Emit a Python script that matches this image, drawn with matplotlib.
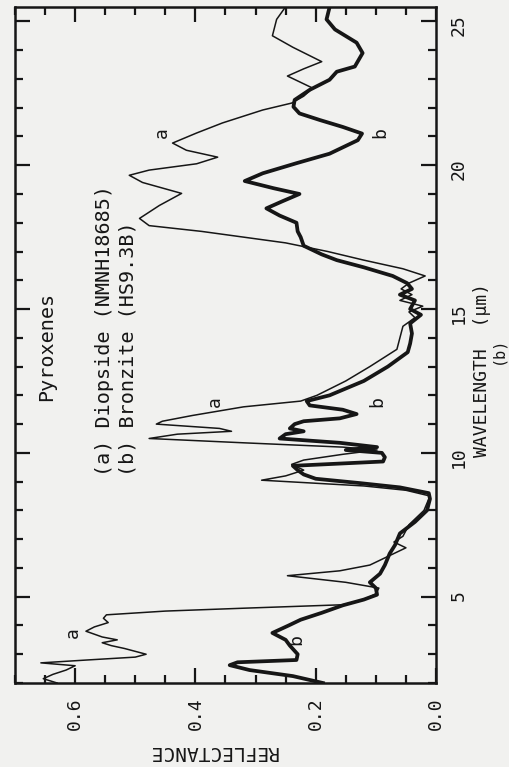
import numpy as np
import matplotlib.pyplot as plt
from matplotlib.ticker import MultipleLocator, FixedLocator

# (a) Diopside (NMNH18685) -- wavelength (um) / reflectance
wl_a = [2.0, 2.15, 2.3, 2.45, 2.6, 2.7, 2.8, 2.9, 3.0, 3.1, 3.2, 3.3, 3.4, 3.5,
        3.6, 3.8, 3.95, 4.1, 4.25, 4.37, 4.5, 4.6, 4.72, 4.9, 5.1, 5.3, 5.5,
        5.73, 5.9, 6.1, 6.5, 6.7, 6.9, 7.1, 7.5, 8.0, 8.5, 8.7, 8.85, 9.05,
        9.2, 9.4, 9.6, 9.75, 9.95, 10.1, 10.2, 10.35, 10.5, 10.65, 10.75,
        10.85, 11.0, 11.1, 11.3, 11.6, 11.8, 12.0, 12.5, 13.0, 13.6, 14.0,
        14.4, 14.7, 14.9, 15.1, 15.3, 15.5, 15.7, 15.9, 16.15, 16.4, 16.7,
        17.0, 17.3, 17.7, 17.9, 18.15, 18.6, 19.02, 19.4, 19.65, 19.83, 20.05,
        20.28, 20.52, 20.77, 21.12, 21.47, 21.92, 22.16, 22.4, 22.68, 22.9,
        23.1, 23.35, 23.6, 24.1, 24.5, 25.07, 25.45]
refl_a = [0.63, 0.653, 0.637, 0.615, 0.60, 0.657, 0.58, 0.50, 0.482, 0.50,
          0.518, 0.54, 0.555, 0.53, 0.555, 0.582, 0.568, 0.545, 0.553, 0.548,
          0.45, 0.32, 0.155, 0.12, 0.10, 0.095, 0.15, 0.247, 0.16, 0.11,
          0.07, 0.05, 0.07, 0.055, 0.045, 0.02, 0.01, 0.05, 0.12, 0.29,
          0.25, 0.22, 0.24, 0.22, 0.155, 0.098, 0.155, 0.32, 0.477, 0.43,
          0.34, 0.36, 0.465, 0.455, 0.405, 0.32, 0.225, 0.198, 0.15, 0.11,
          0.065, 0.06, 0.055, 0.035, 0.045, 0.022, 0.06, 0.04, 0.058, 0.045,
          0.018, 0.055, 0.12, 0.18, 0.25, 0.39, 0.477, 0.493, 0.46, 0.423,
          0.488, 0.51, 0.477, 0.398, 0.363, 0.415, 0.438, 0.398, 0.355,
          0.288, 0.24, 0.22, 0.205, 0.227, 0.247, 0.22, 0.19, 0.238, 0.272,
          0.265, 0.252]

# (b) Bronzite (HS9.3B)
wl_b = [2.0, 2.24, 2.45, 2.62, 2.72, 2.8, 3.0, 3.3, 3.5, 3.74, 4.0, 4.2, 4.44,
        4.7, 4.9, 5.07, 5.3, 5.5, 5.8, 6.1, 6.5, 6.8, 7.2, 7.6, 8.0, 8.4, 8.6,
        8.8, 8.95, 9.1, 9.25, 9.4, 9.55, 9.7, 9.85, 10.0, 10.1, 10.2, 10.35,
        10.5, 10.65, 10.75, 10.85, 11.0, 11.1, 11.2, 11.35, 11.5, 11.65, 11.8,
        12.0, 12.5, 13.0, 13.5, 13.8, 14.15, 14.5, 14.8, 15.0, 15.3, 15.5,
        15.7, 15.9, 16.15, 16.45, 16.7, 16.9, 17.2, 17.5, 17.7, 18.0, 18.25,
        18.5, 18.75, 19.0, 19.2, 19.45, 19.72, 20.07, 20.4, 20.87, 21.1,
        21.33, 21.57, 21.8, 22.03, 22.27, 22.62, 22.97, 23.25, 23.43, 23.9,
        24.26, 24.72, 25.07, 25.49]
refl_b = [0.188, 0.238, 0.31, 0.343, 0.33, 0.232, 0.23, 0.243, 0.25, 0.272,
          0.245, 0.225, 0.19, 0.155, 0.12, 0.098, 0.10, 0.11, 0.093, 0.085,
          0.077, 0.068, 0.06, 0.035, 0.015, 0.01, 0.012, 0.06, 0.127, 0.2,
          0.22, 0.23, 0.238, 0.088, 0.085, 0.09, 0.15, 0.098, 0.16, 0.26,
          0.25, 0.22, 0.243, 0.235, 0.22, 0.16, 0.132, 0.155, 0.21, 0.215,
          0.177, 0.12, 0.08, 0.047, 0.043, 0.04, 0.043, 0.025, 0.043, 0.035,
          0.06, 0.04, 0.048, 0.072, 0.12, 0.165, 0.19, 0.22, 0.225, 0.23,
          0.232, 0.26, 0.282, 0.255, 0.227, 0.27, 0.318, 0.288, 0.232, 0.177,
          0.13, 0.123, 0.155, 0.193, 0.227, 0.237, 0.235, 0.21, 0.177, 0.165,
          0.135, 0.122, 0.132, 0.168, 0.182, 0.177]

refl_ticks = [0.0, 0.2, 0.4, 0.6]
wl_ticks = [5, 10, 15, 20, 25]

paper = '#f1f1ef'
ink = '#161616'
plt.rcParams['font.family'] = ['DejaVu Sans Mono', 'DejaVu Sans']

fig = plt.figure(figsize=(5.1, 7.67), dpi=100, facecolor=paper)
# the page is scanned sideways: reflectance runs right-to-left, wavelength upward
ax = fig.add_axes([15 / 510, 1 - 683 / 767, 421 / 510, 676 / 767])
ax.set_facecolor(paper)

ax.plot(refl_a, wl_a, color=ink, lw=1.1)
ax.plot(refl_b, wl_b, color=ink, lw=2.7, solid_joinstyle='round')

ax.set_xlim(0.7, 0.0)
ax.set_ylim(2.0, 25.5)

ax.xaxis.set_major_locator(FixedLocator(refl_ticks))
ax.xaxis.set_minor_locator(MultipleLocator(0.05))
ax.set_xticklabels(['%.1f' % t for t in refl_ticks])
ax.yaxis.set_major_locator(FixedLocator(wl_ticks))
ax.yaxis.set_minor_locator(MultipleLocator(1))
ax.set_yticklabels([str(t) for t in wl_ticks])

ax.tick_params(which='both', direction='in', top=True, bottom=True,
               left=True, right=True, color=ink, width=1.6)
ax.tick_params(which='major', length=11)
ax.tick_params(which='minor', length=6)
ax.tick_params(axis='x', labelsize=13, labelrotation=90, pad=10,
               labelcolor=ink)
ax.tick_params(axis='y', labelsize=13, labelrotation=90, pad=10,
               labelleft=False, labelright=True, labelcolor=ink)
for s in ax.spines.values():
    s.set_linewidth(1.8)
    s.set_color(ink)

ax.set_xlabel('REFLECTANCE', rotation=180, fontsize=14, color=ink)
ax.xaxis.set_label_coords(0.47, -0.088)
ax.yaxis.set_label_position('right')
ax.set_ylabel('WAVELENGTH  (\u03bcm)', rotation=90, fontsize=13, color=ink)
ax.yaxis.set_label_coords(1.088, 0.463)
fig.text(498 / 510, 1 - 350 / 767, '(b)', rotation=90, fontsize=11,
         color=ink, ha='center', va='center')

ax.text(0.648, 13.7, 'Pyroxenes', rotation=90, fontsize=14.5, color=ink,
        ha='center', va='center')
ax.text(0.552, 9.2, '(a) Diopside (NMNH18685)', rotation=90, fontsize=14.5,
        color=ink, ha='center', va='bottom')
ax.text(0.512, 9.2, '(b) Bronzite (HS9.3B)', rotation=90, fontsize=14.5,
        color=ink, ha='center', va='bottom')

for txt, r, w in [('a', 0.604, 3.74), ('b', 0.232, 3.5), ('a', 0.368, 11.78),
                  ('b', 0.097, 11.78), ('a', 0.455, 21.15), ('b', 0.093, 21.12)]:
    ax.text(r, w, txt, rotation=90, fontsize=13, color=ink,
            ha='center', va='center')

fig.savefig('out.png', dpi=100, facecolor=paper)
